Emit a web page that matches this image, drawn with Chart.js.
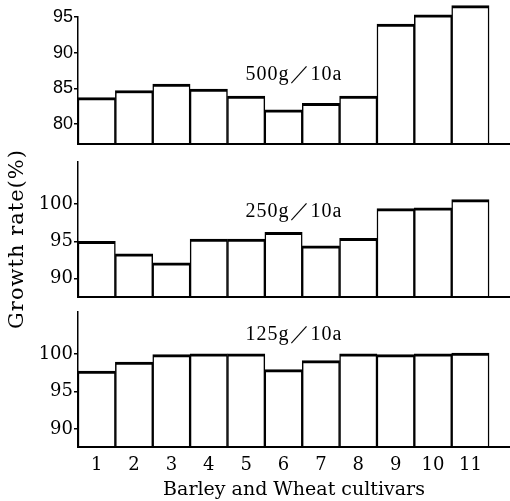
<!DOCTYPE html>
<html>
<head>
<meta charset="utf-8">
<script src="https://cdn.jsdelivr.net/npm/chart.js"></script>
<style>
  body { margin: 0; background: #fff; }
  #wrap { position: relative; width: 510px; height: 501px; }
  canvas { position: absolute; left: 0; }
</style>
</head>
<body>
<div id="wrap">
  <canvas id="g500" width="510" height="160" style="top:0px"></canvas>
  <canvas id="g250" width="510" height="185" style="top:150px"></canvas>
  <canvas id="g125" width="510" height="201" style="top:300px"></canvas>
</div>
<script>
// cultivars on the x axis
const cultivars = ['1', '2', '3', '4', '5', '6', '7', '8', '9', '10', '11'];

// growth rate (%)
const rate500 = [83.7, 84.7, 85.6, 84.9, 83.9, 82.0, 82.9, 83.9, 94.0, 95.3, 96.6];
const rate250 = [95.0, 93.3, 92.1, 95.3, 95.3, 96.2, 94.4, 95.4, 99.4, 99.5, 100.6];
const rate125 = [97.7, 98.9, 99.9, 100.0, 100.0, 97.9, 99.1, 100.0, 99.9, 100.0, 100.1];

// y tick labels
const ticks500 = [80, 85, 90, 95];
const ticks250 = [90, 95, 100];
const ticks125 = [90, 95, 100];

const panelLabels = ['500g／10a', '250g／10a', '125g／10a'];

const serif = '"DejaVu Serif", serif';

// text written inside a panel (dose) and optionally the shared y title
function textPlugin(label, labelY, withTitle) {
  return {
    id: 'panelText',
    afterDraw(chart) {
      const ctx = chart.ctx;
      const a = chart.chartArea;
      ctx.save();
      ctx.fillStyle = '#000';
      ctx.font = '20px "Liberation Serif", serif';
      ctx.letterSpacing = '1px';
      ctx.textAlign = 'center';
      ctx.textBaseline = 'middle';
      ctx.fillText(label, (a.left + a.right) / 2, labelY);
      if (withTitle) {
        ctx.translate(18, 89);
        ctx.rotate(-Math.PI / 2);
        ctx.font = '21px ' + serif;
        ctx.fillText('Growth rate(%)', 0, 0);
      }
      ctx.restore();
    }
  };
}

function makePanel(id, values, yTicks, g) {
  const ctx = document.getElementById(id).getContext('2d');
  return new Chart(ctx, {
    type: 'bar',
    data: {
      datasets: [{
        data: values.map((v, i) => ({ x: i + 1, y: v })),
        base: g.yMin,
        backgroundColor: '#fff',
        borderColor: '#000',
        borderWidth: { top: 3, left: 1.5, right: 1.5, bottom: 0 },
        borderSkipped: 'start',
        barPercentage: 1,
        categoryPercentage: 1,
        clip: false
      }]
    },
    options: {
      responsive: false,
      animation: false,
      events: [],
      layout: { padding: { top: g.padTop, left: 0, right: 0, bottom: 0 } },
      plugins: { legend: { display: false }, tooltip: { enabled: false } },
      scales: {
        x: {
          type: 'linear',
          offset: false,
          min: 0.5,
          max: 12.06,
          grid: { display: false, offset: false },
          border: { color: '#000', width: 2, z: 1 },
          afterBuildTicks: s => { s.ticks = cultivars.map((c, i) => ({ value: i + 1 })); },
          afterFit: s => { s.height = g.xHeight; },
          ticks: {
            display: g.showX,
            autoSkip: false,
            maxRotation: 0,
            padding: 0,
            color: '#000',
            font: { family: serif, size: 18 },
            callback: v => cultivars[v - 1]
          },
          title: {
            display: g.showX,
            text: 'Barley and Wheat cultivars',
            color: '#000',
            padding: 0,
            font: { family: serif, size: 19 }
          }
        },
        y: {
          min: g.yMin,
          max: g.yMax,
          beginAtZero: false,
          afterBuildTicks: s => { s.ticks = yTicks.map(v => ({ value: v })); },
          afterFit: s => { s.width = 78; },
          grid: { drawOnChartArea: false, tickLength: 4, color: '#000', lineWidth: 1.5, z: 1 },
          border: { color: '#000', width: 1.5, z: 1 },
          ticks: {
            padding: 1,
            color: '#000',
            font: { family: g.yFont, size: 18 }
          }
        }
      }
    },
    plugins: [textPlugin(g.label, g.labelY, g.title)]
  });
}

document.addEventListener('DOMContentLoaded', function () {
  makePanel('g500', rate500, ticks500, {
    padTop: 17, xHeight: 16, showX: false, yMin: 77.2, yMax: 95,
    yFont: '"Liberation Sans", sans-serif', label: panelLabels[0], labelY: 75, title: false
  });
  makePanel('g250', rate250, ticks250, {
    padTop: 11, xHeight: 38, showX: false, yMin: 87.5, yMax: 105.7,
    yFont: serif, label: panelLabels[1], labelY: 62, title: true
  });
  makePanel('g125', rate125, ticks125, {
    padTop: 10, xHeight: 54, showX: true, yMin: 87.6, yMax: 105.6,
    yFont: serif, label: panelLabels[2], labelY: 35, title: false
  });
});
</script>
</body>
</html>
